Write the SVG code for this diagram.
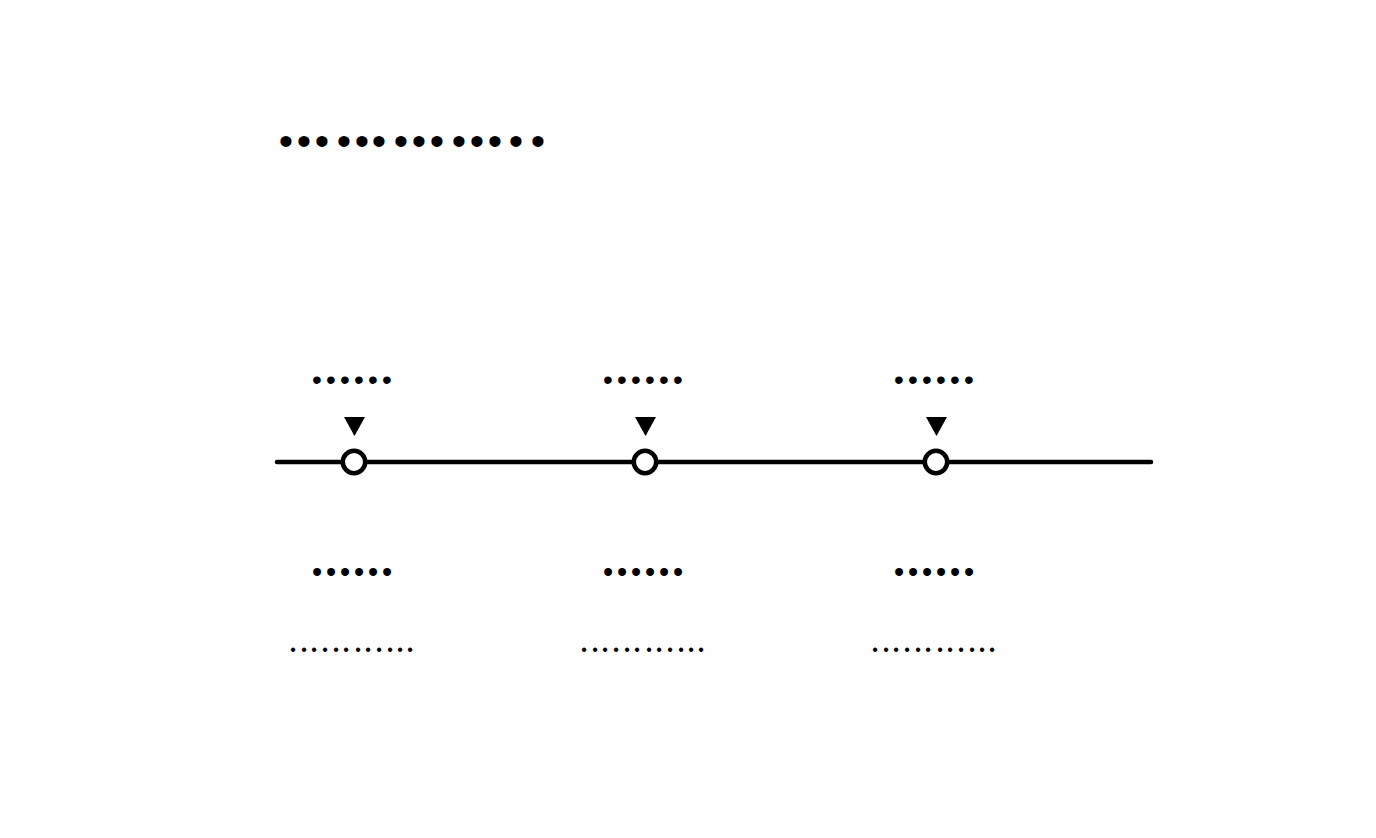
<svg xmlns="http://www.w3.org/2000/svg" width="1376" height="838" viewBox="0 0 1376 838">
<style>
.t{font-family:"Liberation Sans",Arial,sans-serif;fill:#000;text-anchor:middle}
.title{font-size:41px}
.lab{font-size:28px}
.lab2{font-size:29px}
.sub{font-size:16px}
.axis{stroke:#000;stroke-width:4.5;stroke-linecap:round;fill:none}
.pt{fill:#fff;stroke:#000;stroke-width:4.5}
.tri{fill:#000}
</style>
<defs>
<polygon id="tri" class="tri" points="-10.5,0 10.5,0 0,19"/>
</defs>
<rect width="1376" height="838" fill="#fefefe"/>
<g id="title">
<text class="t title" x="286 304 322 344 362 379 401 419 437 459 477 495 516 538" y="154.5">••••••••••••••</text>
</g>
<g id="connectors">
<line class="axis" x1="277" y1="462" x2="1151" y2="462"/>
</g>
<g id="node-1" transform="translate(354,0)">
<text class="t lab" x="-37 -23 -9 5 19 33" y="388.5">••••••</text>
<use href="#tri" x="0.5" y="417"/>
<circle class="pt" cx="0" cy="462" r="11.2"/>
<text class="t lab2" x="-37 -23 -9 5 19 33" y="581.8">••••••</text>
<text class="t sub" x="-61 -50 -40 -29 -18 -8 4 14 25 36 46 56" y="655.3">••••••••••••</text>
</g>
<g id="node-2" transform="translate(645,0)">
<text class="t lab" x="-37 -23 -9 5 19 33" y="388.5">••••••</text>
<use href="#tri" x="0.5" y="417"/>
<circle class="pt" cx="0" cy="462" r="11.2"/>
<text class="t lab2" x="-37 -23 -9 5 19 33" y="581.8">••••••</text>
<text class="t sub" x="-61 -50 -40 -29 -18 -8 4 14 25 36 46 56" y="655.3">••••••••••••</text>
</g>
<g id="node-3" transform="translate(936,0)">
<text class="t lab" x="-37 -23 -9 5 19 33" y="388.5">••••••</text>
<use href="#tri" x="0.5" y="417"/>
<circle class="pt" cx="0" cy="462" r="11.2"/>
<text class="t lab2" x="-37 -23 -9 5 19 33" y="581.8">••••••</text>
<text class="t sub" x="-61 -50 -40 -29 -18 -8 4 14 25 36 46 56" y="655.3">••••••••••••</text>
</g>
</svg>
